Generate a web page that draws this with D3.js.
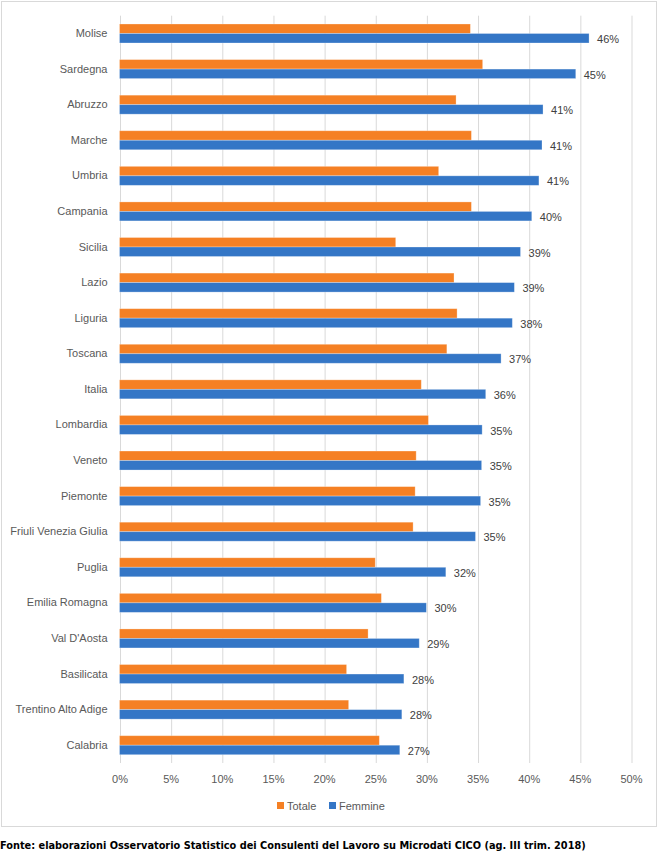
<!DOCTYPE html>
<html>
<head>
<meta charset="utf-8">
<script src="https://cdn.jsdelivr.net/npm/d3@7"></script>
<style>
  body { margin: 0; background: #fff; }
  .lbl { font-family: "Liberation Sans", Arial, sans-serif; }
  .note { font-family: "DejaVu Sans Condensed", "DejaVu Sans", sans-serif; font-stretch: condensed; font-weight: bold; }
</style>
</head>
<body>
<div id="chart"></div>
<script>
(function () {
    "use strict";

    // regions, top to bottom
    var categories = ["Molise", "Sardegna", "Abruzzo", "Marche", "Umbria", "Campania", "Sicilia",
        "Lazio", "Liguria", "Toscana", "Italia", "Lombardia", "Veneto", "Piemonte",
        "Friuli Venezia Giulia", "Puglia", "Emilia Romagna", "Val D'Aosta", "Basilicata",
        "Trentino Alto Adige", "Calabria"];
    var totale = [0.343, 0.355, 0.329, 0.344, 0.312, 0.344, 0.270, 0.327, 0.330, 0.320, 0.295,
        0.302, 0.290, 0.289, 0.287, 0.250, 0.256, 0.243, 0.222, 0.224, 0.254];
    var femmine = [0.459, 0.446, 0.414, 0.413, 0.410, 0.403, 0.392, 0.386, 0.384, 0.373, 0.358,
        0.3545, 0.354, 0.353, 0.348, 0.319, 0.300, 0.293, 0.278, 0.276, 0.274];
    var seriesNames = ["Totale", "Femmine"];
    var seriesColors = ["#f58024", "#3476c6"];
    var xTicks = [0, 0.05, 0.10, 0.15, 0.20, 0.25, 0.30, 0.35, 0.40, 0.45, 0.50];
    var footer = "Fonte: elaborazioni Osservatorio Statistico dei Consulenti del Lavoro su Microdati CICO (ag. III trim. 2018)";

    var W = 659, H = 857;
    var plot = {left: 119.5, right: 631, top: 15.7, bottom: 763};
    var pct = d3.format(".0%");

    var svg = d3.select("#chart").append("svg")
        .attr("width", W)
        .attr("height", H);

    // chart frame
    svg.append("rect")
        .attr("x", 1.5).attr("y", 1.5)
        .attr("width", 655).attr("height", 825)
        .attr("fill", "#fff")
        .attr("stroke", "#d9d9d9");

    var x = d3.scaleLinear().domain([0, 0.5]).range([plot.left, plot.right]);
    var y = d3.scaleBand().domain(categories)
        .range([plot.top, plot.bottom])
        .paddingInner(0.466).paddingOuter(0.233);
    var ys = d3.scaleBand().domain(seriesNames).range([0, y.bandwidth()]);

    // gridlines
    var grid = svg.append("g")
        .attr("transform", "translate(0," + plot.bottom + ")")
        .call(d3.axisBottom(x).tickValues(xTicks).tickSize(-(plot.bottom - plot.top)).tickFormat(""));
    grid.select(".domain").remove();
    grid.selectAll("line").attr("stroke", "#d9d9d9").attr("stroke-width", 1)
        .attr("transform", "translate(0.5,0)");

    // x axis labels
    var xa = svg.append("g")
        .attr("transform", "translate(0," + plot.bottom + ")")
        .call(d3.axisBottom(x).tickValues(xTicks).tickSize(0).tickPadding(12).tickFormat(pct));
    xa.select(".domain").remove();
    xa.selectAll("text").attr("class", "lbl").attr("font-size", 11).attr("fill", "#595959")
        .attr("font-family", null);

    // y axis labels
    var ya = svg.append("g")
        .attr("transform", "translate(" + plot.left + ",0)")
        .call(d3.axisLeft(y).tickSize(0).tickPadding(12));
    ya.select(".domain").remove();
    ya.selectAll("text").attr("class", "lbl").attr("font-size", 11).attr("fill", "#595959")
        .attr("font-family", null);
    ya.attr("font-family", null);
    xa.attr("font-family", null);

    var rows = categories.map(function (c, i) {
        return {cat: c, values: [totale[i], femmine[i]]};
    });

    var grp = svg.append("g").selectAll("g")
        .data(rows).enter().append("g")
        .attr("transform", function (d) { return "translate(0," + y(d.cat) + ")"; });

    grp.selectAll("rect")
        .data(function (d) { return d.values.map(function (v, k) { return {s: seriesNames[k], v: v, c: seriesColors[k]}; }); })
        .enter().append("rect")
        .attr("x", x(0))
        .attr("y", function (d) { return ys(d.s); })
        .attr("width", function (d) { return x(d.v) - x(0); })
        .attr("height", ys.bandwidth())
        .attr("fill", function (d) { return d.c; })
        .attr("stroke", "rgba(255,255,255,0.35)")
        .attr("stroke-width", 0.8);

    // data labels on Femmine
    grp.append("text")
        .attr("class", "lbl")
        .attr("x", function (d) { return x(d.values[1]) + 8; })
        .attr("y", ys("Femmine") + ys.bandwidth() / 2 + 1)
        .attr("dy", "0.35em")
        .attr("font-size", 11)
        .attr("fill", "#404040")
        .text(function (d) { return pct(d.values[1]); });

    // legend
    var leg = svg.append("g").attr("transform", "translate(277,806)");
    var legX = [0, 52];
    seriesNames.forEach(function (s, k) {
        leg.append("rect").attr("x", legX[k]).attr("y", -4)
            .attr("width", 7).attr("height", 7).attr("fill", seriesColors[k]);
        leg.append("text").attr("class", "lbl").attr("x", legX[k] + 10).attr("y", 0).attr("dy", "0.35em")
            .attr("font-size", 11).attr("fill", "#595959").text(s);
    });

    // source note
    var ft = svg.append("text")
        .attr("class", "note")
        .attr("x", 0).attr("y", 849)
        .attr("font-size", 11)
        .attr("fill", "#000")
        .text(footer);
    var len = ft.node().getComputedTextLength();
    ft.attr("font-size", 11 * 586 / len);
}());
</script>
</body>
</html>
